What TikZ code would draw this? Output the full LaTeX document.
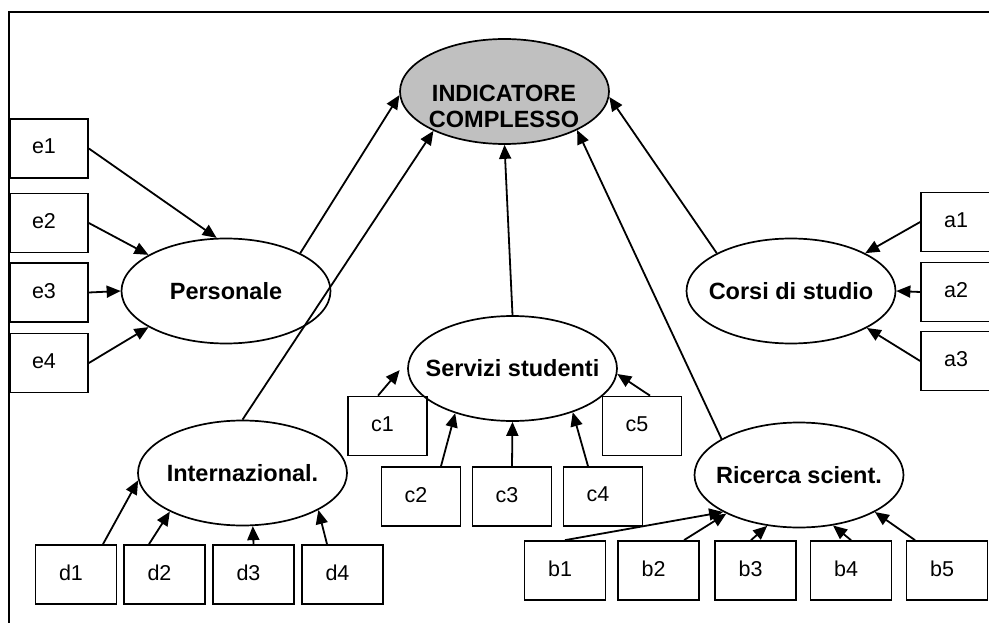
\documentclass[tikz,border=0pt]{standalone}
\usepackage{fontspec}
\setmainfont{Liberation Sans}
\usetikzlibrary{arrows.meta,shapes.geometric}
\definecolor{indgray}{RGB}{192,192,192}
\newcommand{\ltxt}[1]{\makebox[0pt]{#1}}
\newcommand{\btxt}[1]{\hspace*{-10pt}\raisebox{4pt}{#1}}
\begin{document}
\begin{tikzpicture}[x=1pt,y=-1pt,
  lat/.style={ellipse,draw,line width=1.7pt,minimum width=209pt,minimum height=105pt,inner sep=0pt,font=\fontsize{23.5}{28}\selectfont\bfseries},
  obs/.style={rectangle,draw,line width=1.7pt,minimum width=81pt,minimum height=59pt,inner sep=0pt,font=\fontsize{21.5}{25}\selectfont},
  arr/.style={line width=1.8pt,-{Triangle[length=14pt,width=12pt]}},
  frameline/.style={line width=2.4pt}]
\useasboundingbox (0,0) rectangle (989,623);
\clip (0,0) rectangle (989,623);
\draw[frameline] (9,700) -- (9,12) -- (1100,12);

% latent variables
\node[lat,fill=indgray] (ind) at (504.5,91.5) {};
\node[font=\fontsize{23.5}{26}\selectfont\bfseries,align=center,inner sep=0pt] (indtxt) at (504,106.5) {INDICATORE\\COMPLESSO};
\node[lat] (pers)  at (226,291)    {\ltxt{Personale}};
\node[lat] (corsi) at (791,291)    {\ltxt{Corsi di studio}};
\node[lat] (serv)  at (512.5,368.5){\ltxt{Servizi studenti}};
\node[lat] (intl)  at (242.5,473)  {\ltxt{Internazional.}};
\node[lat] (ric)   at (799,475)    {\ltxt{Ricerca scient.}};

% observed boxes
\node[obs,minimum width=78pt] (e1) at (49,148.5) {\btxt{e1}};
\node[obs,minimum width=78pt] (e2) at (49,223)   {\btxt{e2}};
\node[obs,minimum width=78pt] (e3) at (49,292.5) {\btxt{e3}};
\node[obs,minimum width=78pt] (e4) at (49,363)   {\btxt{e4}};

\node[obs,minimum width=80pt] (a1) at (961,222) {\btxt{a1}};
\node[obs,minimum width=80pt] (a2) at (961,292) {\btxt{a2}};
\node[obs,minimum width=80pt] (a3) at (961,361) {\btxt{a3}};

\node[obs,minimum width=79pt] (c1) at (387.5,426)  {\btxt{c1}};
\node[obs,minimum width=79pt] (c5) at (642,426)    {\btxt{c5}};
\node[obs,minimum width=79pt] (c2) at (421,496.5)  {\btxt{c2}};
\node[obs,minimum width=79pt] (c3) at (512,496.5)  {\btxt{c3}};
\node[obs,minimum width=79pt] (c4) at (603,496.5)  {\btxt{c4}};

\node[obs] (d1) at (76,574.5)    {\btxt{d1}};
\node[obs] (d2) at (164.5,574.5) {\btxt{d2}};
\node[obs] (d3) at (253.5,574.5) {\btxt{d3}};
\node[obs] (d4) at (342.5,574.5) {\btxt{d4}};

\node[obs] (b1) at (565,570.5)   {\btxt{b1}};
\node[obs] (b2) at (658.5,570.5) {\btxt{b2}};
\node[obs] (b3) at (755.5,570.5) {\btxt{b3}};
\node[obs] (b4) at (851,570.5)   {\btxt{b4}};
\node[obs] (b5) at (947,570.5)   {\btxt{b5}};

% connectors
\draw[arr] (e1.east) -- (pers.100);
\draw[arr] (e2.east) -- (pers.155);
\draw[arr] (e3.east) -- (pers.west);
\draw[arr] (e4.east) -- (pers.205);

\draw[arr] (pers.27) -- (ind.182);
\draw[arr] (intl.north) -- (ind.209);
\draw[arr] (serv.north) -- (ind.south);
\draw[arr] (ric.155) -- (ind.332);
\draw[arr] (corsi.153) -- (ind.357);

\draw[arr] (a1.west) -- (corsi.27);
\draw[arr] (a2.west) -- (corsi.east);
\draw[arr] (a3.west) -- (corsi.334);

\draw[arr,shorten >=14pt] ([xshift=-9.5pt]c1.north) -- (serv.175);
\draw[arr] ([xshift=8pt]c5.north) -- (serv.357);
\draw[arr] ([xshift=20pt]c2.north) -- (serv.218);
\draw[arr] (c3.north) -- (serv.south);
\draw[arr] ([xshift=-15pt]c4.north) -- (serv.324);

\draw[arr] ([xshift=27pt]d1.north) -- (intl.184);
\draw[arr] ([xshift=-15.5pt]d2.north) -- (intl.208);
\draw[arr] (d3.north) -- (intl.281);
\draw[arr] ([xshift=-15.5pt]d4.north) -- (intl.334);

\draw[arr] (b1.north) -- (ric.206);
\draw[arr] ([xshift=25.5pt]b2.north) -- (ric.208);
\draw[arr] ([xshift=-4.5pt]b3.north) -- (ric.238);
\draw[arr] (b4.north) -- (ric.304);
\draw[arr] ([xshift=-32pt]b5.north) -- (ric.334);
\end{tikzpicture}
\end{document}
